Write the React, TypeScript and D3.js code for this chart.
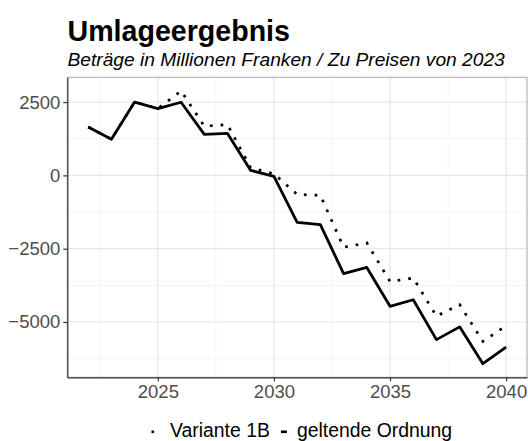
import React, { useRef, useEffect } from "react";
import * as d3 from "d3";

const years = [
  2022, 2023, 2024, 2025, 2026, 2027, 2028, 2029, 2030, 2031, 2032, 2033, 2034,
  2035, 2036, 2037, 2038, 2039, 2040,
];
// geltende Ordnung (solid)
const geltendeOrdnung = [
  1650, 1230, 2500, 2280, 2495, 1400, 1430, 170, -30, -1600, -1680, -3350,
  -3140, -4465, -4240, -5600, -5165, -6420, -5855,
];
// Variante 1B (dotted)
const variante1B = [
  1650, 1230, 2500, 2280, 2880, 1680, 1730, 260, 55, -650, -680, -2450, -2300,
  -3620, -3500, -4800, -4410, -5660, -5125,
];
const yTicks = [2500, 0, -2500, -5000];
const yMinor = [3750, 1250, -1250, -3750, -6250];
const xTicks = [2025, 2030, 2035, 2040];
const xMinor = [2022.5, 2027.5, 2032.5, 2037.5];
const legendLabels = ["Variante 1B", "geltende Ordnung"];

const W = 528;
const H = 441;
const FONT = "'Liberation Sans', Arial, sans-serif";

const App: React.FC = () => {
  const svgRef = useRef<SVGSVGElement>(null);

  useEffect(() => {
    if (!svgRef.current) return;
    const svg = d3.select(svgRef.current);
    svg.selectAll("*").remove();

    const left = 67.3;
    const right = 527;
    const top = 77.3;
    const bottom = 377.3;

    const xScale = d3
      .scaleLinear()
      .domain([2022 - 0.9, 2040 + 0.9])
      .range([left, right]);

    const all = [...geltendeOrdnung, ...variante1B];
    const [lo, hi] = d3.extent(all) as [number, number];
    const pad = (hi - lo) * 0.05;
    const yScale = d3
      .scaleLinear()
      .domain([lo - pad, hi + pad])
      .range([bottom, top]);

    // grid
    const grid = svg.append("g");
    grid
      .selectAll("line.ymin")
      .data(yMinor.filter((v) => yScale(v) > top && yScale(v) < bottom))
      .join("line")
      .attr("x1", left)
      .attr("x2", right)
      .attr("y1", (d) => yScale(d))
      .attr("y2", (d) => yScale(d))
      .attr("stroke", "#f0f0f0")
      .attr("stroke-width", 0.8);
    grid
      .selectAll("line.xmin")
      .data(xMinor)
      .join("line")
      .attr("x1", (d) => xScale(d))
      .attr("x2", (d) => xScale(d))
      .attr("y1", top)
      .attr("y2", bottom)
      .attr("stroke", "#f0f0f0")
      .attr("stroke-width", 0.8);
    grid
      .append("g")
      .selectAll("line")
      .data(yTicks)
      .join("line")
      .attr("x1", left)
      .attr("x2", right)
      .attr("y1", (d) => yScale(d))
      .attr("y2", (d) => yScale(d))
      .attr("stroke", "#e6e6e6")
      .attr("stroke-width", 1.2);
    grid
      .append("g")
      .selectAll("line")
      .data(xTicks)
      .join("line")
      .attr("x1", (d) => xScale(d))
      .attr("x2", (d) => xScale(d))
      .attr("y1", top)
      .attr("y2", bottom)
      .attr("stroke", "#e6e6e6")
      .attr("stroke-width", 1.2);

    // panel border
    svg
      .append("rect")
      .attr("x", left)
      .attr("y", top)
      .attr("width", right - left)
      .attr("height", bottom - top)
      .attr("fill", "none")
      .attr("stroke", "#a6a6a6")
      .attr("stroke-width", 1);

    // lines
    const line = d3
      .line<number>()
      .x((d, i) => xScale(years[i]))
      .y((d) => yScale(d));

    svg
      .append("path")
      .datum(variante1B)
      .attr("fill", "none")
      .attr("stroke", "#000")
      .attr("stroke-width", 2.7)
      .attr("stroke-dasharray", "2.7 8")
      .attr("d", line);

    svg
      .append("path")
      .datum(geltendeOrdnung)
      .attr("fill", "none")
      .attr("stroke", "#000")
      .attr("stroke-width", 2.8)
      .attr("stroke-linejoin", "round")
      .attr("d", line);

    // axes
    const xAxis = d3
      .axisBottom(xScale)
      .tickValues(xTicks)
      .tickFormat(d3.format("d"))
      .tickSize(4)
      .tickSizeOuter(0)
      .tickPadding(3.5);
    const gx = svg
      .append("g")
      .attr("transform", `translate(0,${bottom})`)
      .call(xAxis);
    gx.select(".domain").attr("stroke", "#333").attr("stroke-width", 1.2);
    gx.selectAll(".tick line").attr("stroke", "#333").attr("stroke-width", 1.2);
    gx.selectAll(".tick text")
      .attr("fill", "#4d4d4d")
      .style("font-family", FONT)
      .style("font-size", "18.5px");

    const yAxis = d3
      .axisLeft(yScale)
      .tickValues(yTicks)
      .tickFormat(d3.format("d"))
      .tickSize(4)
      .tickSizeOuter(0)
      .tickPadding(3);
    const gy = svg
      .append("g")
      .attr("transform", `translate(${left},0)`)
      .call(yAxis);
    gy.select(".domain").attr("stroke", "#333").attr("stroke-width", 1.2);
    gy.selectAll(".tick line").attr("stroke", "#333").attr("stroke-width", 1.2);
    gy.selectAll(".tick text")
      .attr("fill", "#4d4d4d")
      .style("font-family", FONT)
      .style("font-size", "18.5px");

    // titles
    svg
      .append("text")
      .attr("x", 67.5)
      .attr("y", 40.5)
      .style("font-family", FONT)
      .style("font-size", "28.6px")
      .style("font-weight", "bold")
      .text("Umlageergebnis");
    svg
      .append("text")
      .attr("x", 67.5)
      .attr("y", 66)
      .style("font-family", FONT)
      .style("font-size", "19.2px")
      .style("font-style", "italic")
      .text("Beträge in Millionen Franken / Zu Preisen von 2023");

    // legend
    const lg = svg.append("g");
    const ly = 436.5;
    const t1 = lg
      .append("text")
      .attr("x", 170)
      .attr("y", ly)
      .style("font-family", FONT)
      .style("font-size", "19.4px")
      .text(legendLabels[0]);
    const w1 = (t1.node() as SVGTextElement).getComputedTextLength();
    lg.append("rect")
      .attr("x", 170 - 18.5)
      .attr("y", 430.5)
      .attr("width", 2.6)
      .attr("height", 2.6)
      .attr("fill", "#000");
    const x2 = 170 + w1 + 27;
    lg.append("line")
      .attr("x1", x2 - 16)
      .attr("x2", x2 - 10)
      .attr("y1", 431.8)
      .attr("y2", 431.8)
      .attr("stroke", "#000")
      .attr("stroke-width", 2.6);
    lg.append("text")
      .attr("x", x2)
      .attr("y", ly)
      .style("font-family", FONT)
      .style("font-size", "19.4px")
      .text(legendLabels[1]);
  }, []);

  return (
    <div style={{ position: "absolute", left: 0, top: 0 }}>
      <svg ref={svgRef} width={W} height={H} style={{ display: "block", background: "#fff" }} />
    </div>
  );
};

export default App;
